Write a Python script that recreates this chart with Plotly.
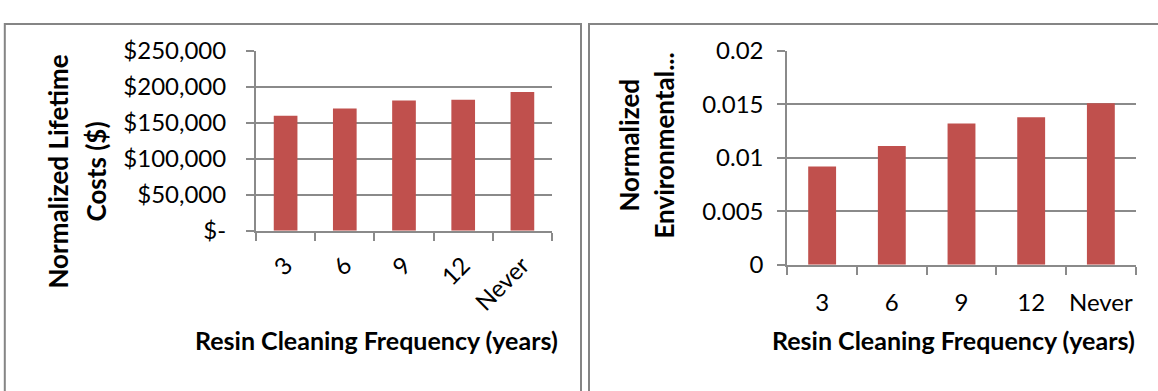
import plotly.graph_objects as go

W, H = 1158, 391

categories = ["3", "6", "9", "12", "Never"]
cost_values = [160000, 170000, 181000, 182000, 193000]
env_values = [0.0092, 0.0111, 0.0132, 0.0138, 0.0151]

cost_tickvals = [0, 50000, 100000, 150000, 200000, 250000]
cost_ticktext = ["$-", "$50,000", "$100,000", "$150,000", "$200,000", "$250,000"]
env_tickvals = [0, 0.005, 0.01, 0.015, 0.02]
env_ticktext = ["0", "0.005", "0.01", "0.015", "0.02"]

x_title = "Resin Cleaning Frequency (years)"
left_y_title = ["Normalized Lifetime", "Costs ($)"]
right_y_title = ["Normalized", "Environmental..."]

BAR = "#C0504D"
GRID = "#8A8A8A"
FONT = "Lato"


def px(x):
    return x / W


def py(y):
    return 1 - y / H


fig = go.Figure()
fig.add_trace(go.Bar(x=categories, y=cost_values, marker_color=BAR,
                     marker_line_width=0, xaxis="x", yaxis="y", showlegend=False))
fig.add_trace(go.Bar(x=categories, y=env_values, marker_color=BAR,
                     marker_line_width=0, xaxis="x2", yaxis="y2", showlegend=False))

axis_common = dict(showline=True, linecolor=GRID, linewidth=2, ticks="outside",
                   ticklen=8, tickcolor=GRID, tickwidth=2,
                   tickfont=dict(family=FONT, size=24, color="black"))

fig.update_layout(
    width=W, height=H, margin=dict(l=0, r=0, t=0, b=0),
    paper_bgcolor="white", plot_bgcolor="white", bargap=0.6,
    xaxis=dict(domain=[px(256), px(552)], anchor="y", type="category",
               range=[-0.5, 4.5], tickson="boundaries", tickangle=-45,
               showgrid=False, ticklabelstandoff=9, **axis_common),
    yaxis=dict(domain=[py(232), py(37.7)], anchor="x", range=[0, 250000],
               tickvals=cost_tickvals, ticktext=cost_ticktext,
               showgrid=True, gridcolor=GRID, gridwidth=2, zeroline=False,
               ticklabelstandoff=15, **axis_common),
    xaxis2=dict(domain=[px(787.3), px(1135.7)], anchor="y2", type="category",
                range=[-0.5, 4.5], tickson="boundaries", tickangle=0,
                showgrid=False, ticklabelstandoff=15, **axis_common),
    yaxis2=dict(domain=[py(268.7), py(37.7)], anchor="x2", range=[0, 0.02],
                tickvals=env_tickvals, ticktext=env_ticktext,
                showgrid=True, gridcolor=GRID, gridwidth=2, zeroline=False,
                ticklabelstandoff=9, **axis_common),
)

xt_font = dict(family=FONT, size=25, color="black", weight="bold")
yt_font = dict(family=FONT, size=26, color="black", weight="bold")
ann = []
ann.append(dict(text=x_title, x=px(376), y=py(350), xref="paper", yref="paper",
                showarrow=False, font=xt_font, xanchor="center", yanchor="middle"))
ann.append(dict(text=x_title, x=px(953), y=py(350), xref="paper", yref="paper",
                showarrow=False, font=xt_font, xanchor="center", yanchor="middle"))
for txt, cx in zip(left_y_title, [58, 96]):
    ann.append(dict(text=txt, x=px(cx), y=py(168), xref="paper", yref="paper",
                    showarrow=False, font=yt_font, textangle=-90,
                    xanchor="center", yanchor="middle"))
for txt, cx in zip(right_y_title, [629, 664]):
    ann.append(dict(text=txt, x=px(cx), y=py(140), xref="paper", yref="paper",
                    showarrow=False, font=yt_font, textangle=-90,
                    xanchor="center", yanchor="middle"))
fig.update_layout(annotations=ann)

shapes = [
    dict(type="rect", xref="paper", yref="paper", x0=px(4.8), x1=px(581),
         y0=py(8.7), y1=py(420), line=dict(color="#858585", width=2)),
    dict(type="rect", xref="paper", yref="paper", x0=px(589), x1=px(1200),
         y0=py(8.7), y1=py(420), line=dict(color="#858585", width=2)),
]
fig.update_layout(shapes=shapes)

fig.write_html("out.html")
